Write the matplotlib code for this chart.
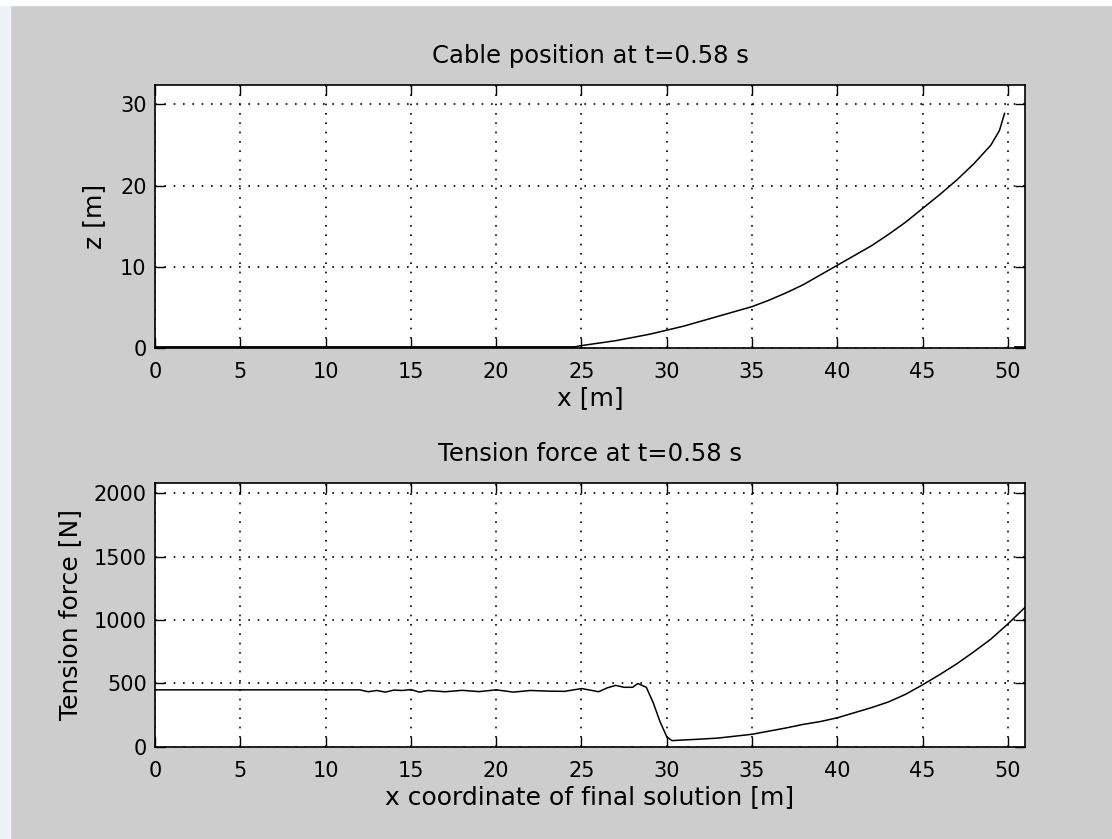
"""Cable position and tension force snapshot, MATLAB-style two-panel figure."""

import matplotlib
matplotlib.use("Agg")
import matplotlib.pyplot as plt
from matplotlib.patches import Rectangle

plt.rcParams["font.family"] = ["DejaVu Sans"]

# cable shape (x [m], z [m]); part lying on the seabed drawn separately
GROUND_X = [0, 24.5]
GROUND_Z = [0.15, 0.15]
END_X = [50.4, 51.0]
END_Z = [0.15, 0.15]
CABLE_X = [24.5, 25, 26, 27, 28, 29, 30, 31, 32, 33, 34, 35, 36, 37, 38, 39,
           40, 41, 42, 43, 44, 45, 46, 47, 48, 49, 49.5, 49.8]
CABLE_Z = [0.1, 0.3, 0.6, 0.9, 1.3, 1.7, 2.2, 2.7, 3.3, 3.9, 4.5, 5.1, 5.9,
           6.8, 7.8, 9.0, 10.2, 11.4, 12.6, 14.0, 15.5, 17.2, 18.9, 20.7,
           22.7, 25.0, 26.8, 28.9]

# tension along the cable
TENS_X = [0, 12, 12.5, 13, 13.5, 14, 14.5, 15, 15.5, 16, 17, 18, 19, 20, 21,
          22, 23, 24, 25, 25.5, 26, 26.5, 27, 27.5, 28, 28.3, 28.8, 29.2,
          29.6, 30.0, 30.3, 31, 32, 33, 34, 35, 36, 37, 38, 39, 40, 41, 42,
          43, 44, 45, 46, 47, 48, 49, 50, 51]
TENS_F = [450, 450, 435, 445, 432, 448, 445, 452, 432, 445, 435, 446, 436,
          450, 432, 445, 440, 438, 460, 448, 435, 465, 485, 470, 470, 500,
          470, 350, 200, 80, 50, 55, 62, 70, 85, 100, 125, 150, 178, 200,
          230, 270, 310, 355, 415, 490, 570, 655, 750, 850, 970, 1100]

TOP_TITLE = "Cable position at t=0.58 s"
BOT_TITLE = "Tension force at t=0.58 s"

BG = "#cdcdcd"


def style_axes(ax):
    ax.set_facecolor("white")
    ax.grid(True, color="black", linestyle=(0, (1, 4.6)), linewidth=1.2)
    ax.tick_params(direction="in", top=True, right=True, length=7,
                   width=1.0, labelsize=15)
    ax.tick_params(axis="x", pad=10)
    ax.tick_params(axis="y", pad=6)
    for sp in ax.spines.values():
        sp.set_linewidth(1.2)


fig = plt.figure(figsize=(11.12, 8.39), dpi=100, facecolor=BG)
# thin light borders on the top and left of the screenshot
fig.patches.append(Rectangle((0, 0), 10 / 1112, 1, transform=fig.transFigure,
                             color="#eef2f6", zorder=-1))
fig.patches.append(Rectangle((0, 1 - 5 / 839), 1, 5 / 839,
                             transform=fig.transFigure, color="white",
                             zorder=-1))

ax1 = fig.add_axes([0.1394, 0.5852, 0.7824, 0.3135])
ax1.plot(GROUND_X, GROUND_Z, color="black", linewidth=2.0)
ax1.plot(END_X, END_Z, color="black", linewidth=2.0)
ax1.plot(CABLE_X, CABLE_Z, color="black", linewidth=1.1)
ax1.set_xlim(0, 51)
ax1.set_ylim(0, 32.4)
ax1.set_xticks(range(0, 51, 5))
ax1.set_yticks([0, 10, 20, 30])
style_axes(ax1)
ax1.set_title(TOP_TITLE, fontsize=17.5, pad=16)
ax1.set_xlabel("x [m]", fontsize=18, labelpad=3)
ax1.set_ylabel("z [m]", fontsize=18, labelpad=10)

ax2 = fig.add_axes([0.1394, 0.1097, 0.7824, 0.3147])
ax2.plot(TENS_X, TENS_F, color="black", linewidth=1.1)
ax2.set_xlim(0, 51)
ax2.set_ylim(0, 2080)
ax2.set_xticks(range(0, 51, 5))
ax2.set_yticks([0, 500, 1000, 1500, 2000])
style_axes(ax2)
ax2.set_title(BOT_TITLE, fontsize=17.5, pad=16)
ax2.set_xlabel("x coordinate of final solution [m]", fontsize=18, labelpad=3)
ax2.set_ylabel("Tension force [N]", fontsize=18, labelpad=8)

fig.savefig("out.png", dpi=100, facecolor=BG)
plt.close(fig)
